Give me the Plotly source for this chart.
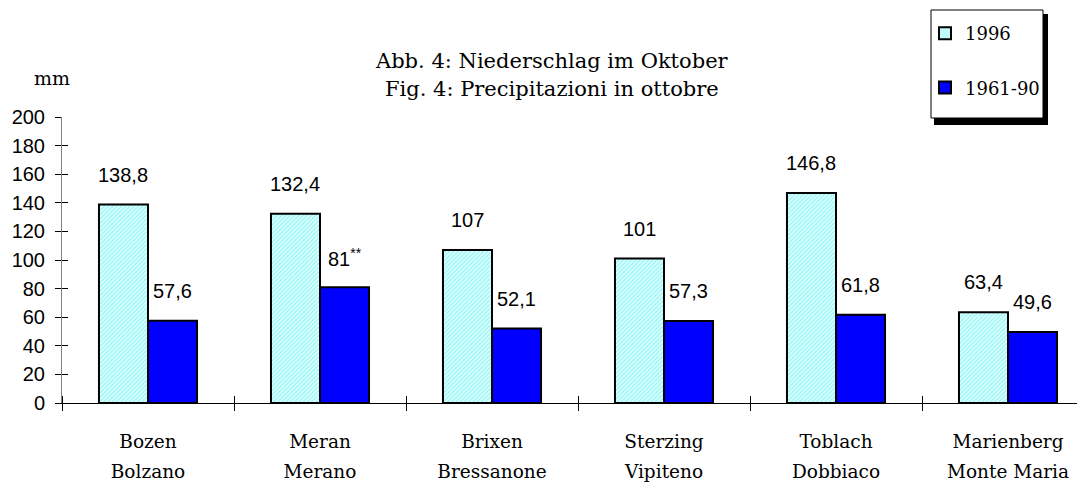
import plotly.graph_objects as go

# ---- data ----
stations_de = ["Bozen", "Meran", "Brixen", "Sterzing", "Toblach", "Marienberg"]
stations_it = ["Bolzano", "Merano", "Bressanone", "Vipiteno", "Dobbiaco", "Monte Maria"]
prec_1996 = [138.8, 132.4, 107, 101, 146.8, 63.4]
prec_6190 = [57.6, 81, 52.1, 57.3, 61.8, 49.6]
notes_1996 = ["", "", "", "", "", ""]
notes_6190 = ["", "**", "", "", "", ""]
y_ticks = [0, 20, 40, 60, 80, 100, 120, 140, 160, 180, 200]

SANS = "Liberation Sans, Arial, sans-serif"
SERIF = "DejaVu Serif, serif"

# page body adds an 8px offset; work in page pixels and convert
OFF = 8
PAGE_W, PAGE_H = 1085, 485
W, H = PAGE_W - OFF, PAGE_H - OFF
PLOT_LEFT, PLOT_TOP, PLOT_BOTTOM = 62, 117, 403   # page pixels
L = PLOT_LEFT - OFF
T = PLOT_TOP - OFF
B = H - (PLOT_BOTTOM - OFF)
PW = W - L
PH = H - T - B
CAT_PX = 172.0
x_pos = list(range(len(stations_de)))
x_range = [-0.5, -0.5 + PW / CAT_PX]
bounds = [i - 0.5 for i in range(len(stations_de))]

BAR_W = 0.285


def fmt(v, note):
    s = f"{v:g}".replace(".", ",")
    if note:
        s += "<sup>" + note + "</sup>"
    return s


def px_x(p):
    return (p - PLOT_LEFT) / PW


def px_y(p):
    return (PLOT_BOTTOM - p) / PH


fig = go.Figure()
fig.add_trace(go.Bar(
    x=x_pos, y=prec_1996, name="1996", legendgroup="a",
    width=BAR_W, offset=-BAR_W, xaxis="x", yaxis="y",
    marker=dict(color="#c6fbfb", line=dict(color="black", width=2),
                pattern=dict(shape="/", fgcolor="#4ee8e8", bgcolor="#dcffff", size=3, solidity=0.4)),
))
fig.add_trace(go.Bar(
    x=x_pos, y=prec_6190, name="1961-90", legendgroup="b",
    width=BAR_W, offset=0, xaxis="x2", yaxis="y2",
    marker=dict(color="#0000ff", line=dict(color="black", width=2)),
))

ann = []
for i, (v, n) in enumerate(zip(prec_1996, notes_1996)):
    ann.append(dict(x=i - BAR_W / 2, y=v, xref="x", yref="y", text=fmt(v, n), showarrow=False,
                    xanchor="center", yanchor="middle", yshift=30,
                    font=dict(family=SANS, size=20, color="black")))
for i, (v, n) in enumerate(zip(prec_6190, notes_6190)):
    ann.append(dict(x=i + BAR_W / 2, y=v, xref="x", yref="y", text=fmt(v, n), showarrow=False,
                    xanchor="center", yanchor="middle", yshift=30,
                    font=dict(family=SANS, size=20, color="black")))

ann.append(dict(x=px_x(52), y=px_y(78), xref="paper", yref="paper", text="mm", showarrow=False,
                xanchor="center", yanchor="middle", font=dict(family=SERIF, size=19, color="black")))
ann.append(dict(x=px_x(552), y=px_y(61), xref="paper", yref="paper", text="Abb. 4: Niederschlag im Oktober",
                showarrow=False, xanchor="center", yanchor="middle",
                font=dict(family=SERIF, size=21, color="black")))
ann.append(dict(x=px_x(552), y=px_y(89), xref="paper", yref="paper", text="Fig. 4: Precipitazioni in ottobre",
                showarrow=False, xanchor="center", yanchor="middle",
                font=dict(family=SERIF, size=21, color="black")))

shapes = [
    dict(type="rect", xref="paper", yref="paper", x0=px_x(934), x1=px_x(1048), y0=px_y(125), y1=px_y(14),
         fillcolor="black", line=dict(width=0), layer="above"),
    dict(type="rect", xref="paper", yref="paper", x0=px_x(931), x1=px_x(1043), y0=px_y(118), y1=px_y(10),
         fillcolor="white", line=dict(color="black", width=1), layer="above"),
]

fig.update_layout(
    width=W, height=H,
    margin=dict(l=L, r=0, t=T, b=B, pad=0, autoexpand=False),
    paper_bgcolor="white", plot_bgcolor="white",
    barmode="overlay",
    annotations=ann,
    shapes=shapes,
    showlegend=True,
    legend=dict(x=px_x(925), y=px_y(15), xanchor="left", yanchor="top",
                bgcolor="rgba(0,0,0,0)", borderwidth=0,
                font=dict(family=SERIF, size=18, color="black"),
                tracegroupgap=28, traceorder="grouped", itemwidth=30),
    xaxis=dict(range=x_range, tickmode="array", tickvals=x_pos, ticktext=stations_de,
               ticks="", showline=True, linecolor="black", linewidth=1, showgrid=False, zeroline=False,
               automargin=False, ticklabelstandoff=22, tickfont=dict(family=SERIF, size=18.5, color="black"),
               minor=dict(tickmode="array", tickvals=bounds, ticks="outside", ticklen=7,
                          tickcolor="black", tickwidth=1, showgrid=False)),
    xaxis2=dict(range=x_range, overlaying="x", anchor="y2", side="bottom",
                tickmode="array", tickvals=x_pos, ticktext=stations_it,
                ticks="", showline=False, showgrid=False, zeroline=False, automargin=False,
                ticklabelstandoff=55, tickfont=dict(family=SERIF, size=18.5, color="black"),
                minor=dict(tickmode="array", tickvals=bounds, ticks="inside", ticklen=7,
                           tickcolor="black", tickwidth=1, showgrid=False)),
    yaxis=dict(range=[0, 200], tickmode="array", tickvals=y_ticks, ticks="outside", ticklen=6,
               tickcolor="black", showline=True, linecolor="#808080", linewidth=1, showgrid=False,
               zeroline=False, automargin=False, tickfont=dict(family=SANS, size=20, color="black"),
               ticklabelstandoff=6),
    yaxis2=dict(range=[0, 200], overlaying="y", anchor="x", side="left", tickmode="array",
                tickvals=y_ticks, ticks="inside", ticklen=6, tickcolor="black", automargin=False,
                showticklabels=False, showline=False, showgrid=False, zeroline=False),
)

fig.write_html("out.html")
